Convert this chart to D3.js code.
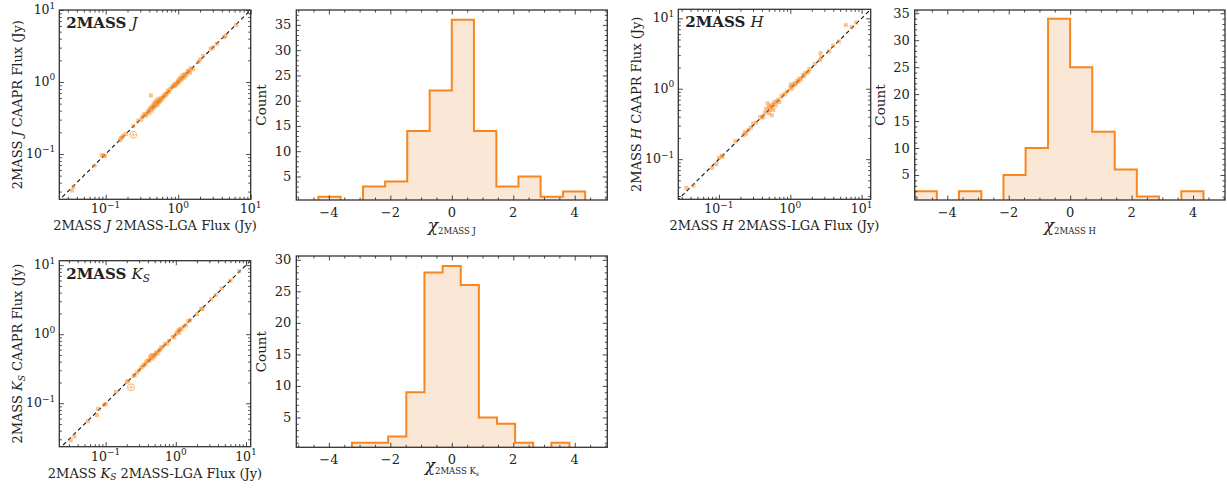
<!DOCTYPE html>
<html><head><meta charset="utf-8">
<script src="https://cdn.jsdelivr.net/npm/d3@7"></script>
<style>
body{margin:0;background:#fff}
svg{display:block}
text{font-family:"DejaVu Serif",serif;fill:#222}
</style>
</head><body>
<svg id="c" width="1227" height="488"></svg>
<script>
// ---------------- DATA ----------------
// scatter: [2MASS-LGA flux, CAAPR flux] (Jy)
const jFlux = [[0.034,0.031],[0.036,0.035],[0.070,0.069],[0.088,0.096],[0.093,0.095],[0.098,0.094],[0.158,0.155],[0.162,0.165],[0.168,0.17],[0.175,0.18],[0.19,0.19],[0.24,0.245],[0.28,0.29],[0.31,0.30],[0.32,0.33],[0.34,0.36],[0.35,0.34],[0.36,0.35],[0.38,0.39],[0.40,0.37],[0.40,0.42],[0.42,0.65],[0.42,0.44],[0.43,0.40],[0.44,0.46],[0.45,0.43],[0.46,0.50],[0.47,0.45],[0.48,0.52],[0.48,0.47],[0.50,0.48],[0.50,0.55],[0.52,0.53],[0.52,0.49],[0.53,0.58],[0.55,0.52],[0.56,0.56],[0.57,0.55],[0.58,0.60],[0.60,0.58],[0.62,0.64],[0.64,0.62],[0.66,0.68],[0.68,0.66],[0.70,0.70],[0.72,0.76],[0.75,0.73],[0.78,0.80],[0.82,0.85],[0.85,0.88],[0.88,0.92],[0.90,0.88],[0.92,0.95],[0.95,0.92],[0.98,1.0],[1.0,1.05],[1.02,0.98],[1.05,1.1],[1.08,1.15],[1.1,1.05],[1.12,1.12],[1.15,1.25],[1.2,1.15],[1.22,1.22],[1.25,1.3],[1.3,1.25],[1.35,1.4],[1.4,1.45],[1.45,1.35],[1.5,1.55],[1.6,1.5],[1.9,1.9],[2.0,2.05],[2.2,2.3],[2.8,2.9],[3.0,3.0],[3.4,3.4],[4.3,4.2],[4.5,4.4],[6.3,6.2]];
const jFlagged = [[0.24,0.185]];
const hFlux = [[0.035,0.039],[0.044,0.042],[0.08,0.075],[0.092,0.085],[0.1,0.105],[0.11,0.112],[0.112,0.108],[0.17,0.18],[0.22,0.22],[0.23,0.24],[0.24,0.23],[0.26,0.26],[0.28,0.28],[0.30,0.32],[0.33,0.33],[0.38,0.40],[0.40,0.39],[0.42,0.40],[0.44,0.46],[0.46,0.52],[0.48,0.62],[0.5,0.55],[0.5,0.45],[0.52,0.5],[0.53,0.58],[0.55,0.42],[0.55,0.55],[0.57,0.6],[0.58,0.5],[0.6,0.65],[0.62,0.58],[0.65,0.66],[0.68,0.7],[0.7,0.65],[0.75,0.78],[0.8,0.82],[0.85,0.85],[0.9,0.92],[1.0,1.05],[1.02,1.15],[1.05,1.0],[1.1,1.12],[1.15,1.2],[1.2,1.15],[1.25,1.3],[1.3,1.25],[1.35,1.4],[1.4,1.35],[1.5,1.55],[1.55,1.5],[1.6,1.65],[1.7,1.7],[1.8,1.75],[1.85,1.9],[2.2,2.25],[2.6,2.55],[2.65,3.2],[2.7,2.8],[3.5,3.4],[4.0,4.1],[4.8,4.7],[6.0,8.0],[7.2,7.5],[8.4,8.7]];
const hFlagged = [];
const kFlux = [[0.032,0.029],[0.036,0.033],[0.056,0.055],[0.075,0.067],[0.078,0.083],[0.095,0.095],[0.1,0.097],[0.14,0.145],[0.2,0.205],[0.21,0.21],[0.25,0.25],[0.26,0.255],[0.28,0.28],[0.3,0.3],[0.32,0.33],[0.34,0.34],[0.35,0.36],[0.37,0.37],[0.38,0.4],[0.4,0.42],[0.42,0.41],[0.43,0.47],[0.45,0.44],[0.45,0.5],[0.47,0.46],[0.48,0.5],[0.5,0.48],[0.52,0.52],[0.53,0.55],[0.55,0.53],[0.58,0.58],[0.6,0.6],[0.62,0.64],[0.65,0.66],[0.7,0.72],[0.75,0.73],[0.8,0.8],[0.9,0.92],[0.95,0.9],[1.0,1.0],[1.05,1.08],[1.1,1.15],[1.12,1.05],[1.15,1.2],[1.2,1.18],[1.3,1.3],[1.4,1.35],[1.5,1.55],[1.6,1.6],[2.0,1.95],[2.3,2.35],[2.4,2.3],[3.2,3.2],[3.7,3.7],[4.5,4.6],[6.0,6.0],[8.0,8.2]];
const kFlagged = [[0.23,0.17]];

// histograms of chi
const jEdges = [-4.34,-3.62,-2.89,-2.17,-1.45,-0.72,0,0.72,1.45,2.17,2.89,3.62,4.34];
const jCounts = [1,0,3,4,14,22,36,14,3,5,1,2];
const hEdges = [-5.06,-4.34,-3.62,-2.89,-2.17,-1.45,-0.72,0,0.72,1.45,2.17,2.89,3.62,4.34];
const hCounts = [2,0,2,0,5,10,34,25,13,6,1,0,2];
const kEdges = [-3.25,-2.66,-2.07,-1.48,-0.89,-0.30,0.29,0.88,1.47,2.06,2.65,3.24,3.83];
const kCounts = [1,1,2,9,28,29,26,5,4,1,0,1];

const histXTicks = [-4,-2,0,2,4];
const histYTicks = [5,10,15,20,25,30,35];
const logMajorTicks = [0.1,1,10];
const logMajorExps = ["\u22121","0","1"];

// ---------------- STYLE ----------------
const ORANGE = "#f7861e";
const FILL = "#fbe7d6";
const FRAME = "#333";
const svg = d3.select("#c");
let clipId = 0;

function frameTicks(g, x, y, f, xMaj, xMin, yMaj, yMin) {
  const L = 4.5, l = 2.5;
  const sets = [
    [d3.axisBottom, x, xMaj, L, `translate(0,${f.y1})`],
    [d3.axisBottom, x, xMin, l, `translate(0,${f.y1})`],
    [d3.axisTop, x, xMaj, L, `translate(0,${f.y0})`],
    [d3.axisTop, x, xMin, l, `translate(0,${f.y0})`],
    [d3.axisLeft, y, yMaj, L, `translate(${f.x0},0)`],
    [d3.axisLeft, y, yMin, l, `translate(${f.x0},0)`],
    [d3.axisRight, y, yMaj, L, `translate(${f.x1},0)`],
    [d3.axisRight, y, yMin, l, `translate(${f.x1},0)`]
  ];
  sets.forEach(([ax, sc, vals, len, tr]) => {
    const a = g.append("g").attr("transform", tr)
      .call(ax(sc).tickValues(vals).tickSize(-len).tickSizeOuter(0).tickFormat(""));
    a.select(".domain").remove();
    a.selectAll("line").attr("stroke", FRAME).attr("stroke-width", 0.9);
  });
  g.append("rect").attr("x", f.x0).attr("y", f.y0)
    .attr("width", f.x1 - f.x0).attr("height", f.y1 - f.y0)
    .attr("fill", "none").attr("stroke", FRAME).attr("stroke-width", 1.3);
}

function addClip(f) {
  const id = "clip" + (clipId++);
  svg.append("clipPath").attr("id", id).append("rect")
    .attr("x", f.x0).attr("y", f.y0).attr("width", f.x1 - f.x0).attr("height", f.y1 - f.y0);
  return id;
}

function logMinors(dom) {
  const out = [];
  for (let e = -3; e <= 2; e++) for (let k = 2; k <= 9; k++) {
    const v = k * Math.pow(10, e);
    if (v > dom[0] && v < dom[1]) out.push(v);
  }
  return out;
}

function scatterPanel(c) {
  const f = c.frame;
  const g = svg.append("g");
  const x = d3.scaleLog().domain(c.xd).range([f.x0, f.x1]);
  const y = d3.scaleLog().domain(c.yd).range([f.y1, f.y0]);
  const cid = addClip(f);
  const inner = g.append("g").attr("clip-path", `url(#${cid})`);
  const lo = Math.min(c.xd[0], c.yd[0]) * 0.5, hi = Math.max(c.xd[1], c.yd[1]) * 2;
  inner.append("line").attr("x1", x(lo)).attr("y1", y(lo)).attr("x2", x(hi)).attr("y2", y(hi))
    .attr("stroke", "#111").attr("stroke-width", 1.1).attr("stroke-dasharray", "4,3");
  inner.selectAll("rect.pt").data(c.data).join("rect").attr("class", "pt")
    .attr("x", d => x(d[0]) - 2).attr("y", d => y(d[1]) - 2)
    .attr("width", 4).attr("height", 4)
    .attr("fill", ORANGE).attr("fill-opacity", 0.5);
  c.flagged.forEach(d => {
    const cx = x(d[0]), cy = y(d[1]);
    inner.append("circle").attr("cx", cx).attr("cy", cy).attr("r", 3.5)
      .attr("fill", "none").attr("stroke", ORANGE).attr("stroke-opacity", 0.55).attr("stroke-width", 1);
    inner.append("path").attr("d", `M${cx-3.5},${cy}H${cx+3.5}M${cx},${cy-3.5}V${cy+3.5}`)
      .attr("stroke", ORANGE).attr("stroke-opacity", 0.55).attr("stroke-width", 0.9);
  });
  const xMaj = logMajorTicks.filter(v => v >= c.xd[0] && v <= c.xd[1]);
  const yMaj = logMajorTicks.filter(v => v >= c.yd[0] && v <= c.yd[1]);
  frameTicks(g, x, y, f, xMaj, logMinors(c.xd), yMaj, logMinors(c.yd));
  // tick labels
  logMajorTicks.forEach((v, i) => {
    if (v >= c.xd[0] && v <= c.xd[1]) {
      const t = g.append("text").attr("x", x(v)).attr("y", f.y1 + 14)
        .attr("text-anchor", "middle").attr("font-size", 12.5);
      t.append("tspan").text("10");
      t.append("tspan").attr("dy", -5.5).attr("font-size", 9).text(logMajorExps[i]);
    }
    if (v >= c.yd[0] && v <= c.yd[1]) {
      const t = g.append("text").attr("x", f.x0 - 4).attr("y", y(v) + 4)
        .attr("text-anchor", "end").attr("font-size", 12.5);
      t.append("tspan").text("10");
      t.append("tspan").attr("dy", -5.5).attr("font-size", 9).text(logMajorExps[i]);
    }
  });
  // title
  const tt = g.append("text").attr("x", f.x0 + 7).attr("y", f.y0 + 18).attr("font-size", 15);
  tt.append("tspan").attr("font-weight", "bold").text("2MASS ");
  tt.append("tspan").attr("font-style", "italic").text(c.band);
  if (c.bandSub) tt.append("tspan").attr("font-style", "italic").attr("font-size", 10.5).attr("dy", 3).text(c.bandSub);
  // x label
  const xl = g.append("text").attr("x", (f.x0 + f.x1) / 2).attr("y", f.y1 + 31)
    .attr("text-anchor", "middle").attr("font-size", 13);
  xl.append("tspan").text("2MASS ");
  xl.append("tspan").attr("font-style", "italic").text(c.band);
  if (c.bandSub) xl.append("tspan").attr("font-style", "italic").attr("font-size", 9).attr("dy", 2.5).text(c.bandSub);
  xl.append("tspan").attr("dy", c.bandSub ? -2.5 : 0).text(" 2MASS-LGA Flux (Jy)");
  // y label
  const cyc = (f.y0 + f.y1) / 2;
  const yl = g.append("text").attr("transform", `translate(${c.ylx},${cyc}) rotate(-90)`)
    .attr("text-anchor", "middle").attr("font-size", 13);
  yl.append("tspan").text("2MASS ");
  yl.append("tspan").attr("font-style", "italic").text(c.band);
  if (c.bandSub) yl.append("tspan").attr("font-style", "italic").attr("font-size", 9).attr("dy", 2.5).text(c.bandSub);
  yl.append("tspan").attr("dy", c.bandSub ? -2.5 : 0).text(" CAAPR Flux (Jy)");
}

function histPanel(c) {
  const f = c.frame;
  const g = svg.append("g");
  const x = d3.scaleLinear().domain(c.xd).range([f.x0, f.x1]);
  const y = d3.scaleLinear().domain(c.yd).range([f.y1, f.y0]);
  const cid = addClip(f);
  const inner = g.append("g").attr("clip-path", `url(#${cid})`);
  const pts = [[c.edges[0], 0]];
  c.counts.forEach((n, i) => { pts.push([c.edges[i], n]); pts.push([c.edges[i + 1], n]); });
  pts.push([c.edges[c.edges.length - 1], 0]);
  const line = d3.line().x(d => x(d[0])).y(d => y(d[1]));
  inner.append("path").attr("d", line(pts) + "Z").attr("fill", FILL).attr("stroke", "none");
  inner.append("path").attr("d", line(pts)).attr("fill", "none")
    .attr("stroke", ORANGE).attr("stroke-width", 2).attr("stroke-linejoin", "miter");
  const xMin = d3.range(-50, 51).map(v => v / 10).filter(v => Math.abs(v * 2 - Math.round(v * 2)) < 1e-9 && v > c.xd[0] && v < c.xd[1] && !histXTicks.includes(v));
  const yMaj = histYTicks.filter(v => v <= c.yd[1]);
  const yMin = d3.range(1, 40).filter(v => v > c.yd[0] && v < c.yd[1] && v % 5 !== 0);
  frameTicks(g, x, y, f, histXTicks, xMin, yMaj, yMin);
  histXTicks.forEach(v => {
    g.append("text").attr("x", x(v)).attr("y", f.y1 + 16.5).attr("text-anchor", "middle")
      .attr("font-size", 13).text(v < 0 ? "\u2212" + Math.abs(v) : String(v));
  });
  yMaj.forEach(v => {
    g.append("text").attr("x", f.x0 - 5).attr("y", y(v) + 4.5).attr("text-anchor", "end")
      .attr("font-size", 13).text(v);
  });
  g.append("text").attr("transform", `translate(${c.ylx},${(f.y0 + f.y1) / 2}) rotate(-90)`)
    .attr("text-anchor", "middle").attr("font-size", 13.5).text("Count");
  const xl = g.append("text").attr("x", (f.x0 + f.x1) / 2).attr("y", f.y1 + c.xlOff)
    .attr("text-anchor", "middle");
  xl.append("tspan").attr("font-style", "italic").attr("font-size", 17).text("\u03C7");
  xl.append("tspan").attr("font-size", 8.5).attr("dy", 3).text(c.sub);
  if (c.subsub) xl.append("tspan").attr("font-size", 6).attr("dy", 1.5).text(c.subsub);
}

// ---------------- PANELS ----------------
scatterPanel({frame:{x0:59.3,x1:250.7,y0:10,y1:199.3}, xd:[Math.pow(10,-1.64),10], yd:[Math.pow(10,-1.63),10],
  data:jFlux, flagged:jFlagged, band:"J", ylx:22});
histPanel({frame:{x0:296.3,x1:607.3,y0:10,y1:200}, xd:[-5.06,5.06], yd:[0.34,37.95],
  edges:jEdges, counts:jCounts, ylx:266, sub:"2MASS J", xlOff:31});
scatterPanel({frame:{x0:678.3,x1:870.7,y0:9.3,y1:199.3}, xd:[Math.pow(10,-1.57),Math.pow(10,1.127)], yd:[Math.pow(10,-1.57),Math.pow(10,1.128)],
  data:hFlux, flagged:hFlagged, band:"H", ylx:641});
histPanel({frame:{x0:914.7,x1:1225,y0:10,y1:200}, xd:[-5.06,5.04], yd:[0.36,35.6],
  edges:hEdges, counts:hCounts, ylx:885, sub:"2MASS H", xlOff:31});
scatterPanel({frame:{x0:59.3,x1:250.7,y0:260.7,y1:446.7}, xd:[Math.pow(10,-1.66),Math.pow(10,1.067)], yd:[Math.pow(10,-1.63),Math.pow(10,1.065)],
  data:kFlux, flagged:kFlagged, band:"K", bandSub:"S", ylx:22});
histPanel({frame:{x0:296.3,x1:607.3,y0:256,y1:447.3}, xd:[-5.06,5.06], yd:[0.27,30.6],
  edges:kEdges, counts:kCounts, ylx:266, sub:"2MASS K", subsub:"s", xlOff:24});
</script>
</body></html>
